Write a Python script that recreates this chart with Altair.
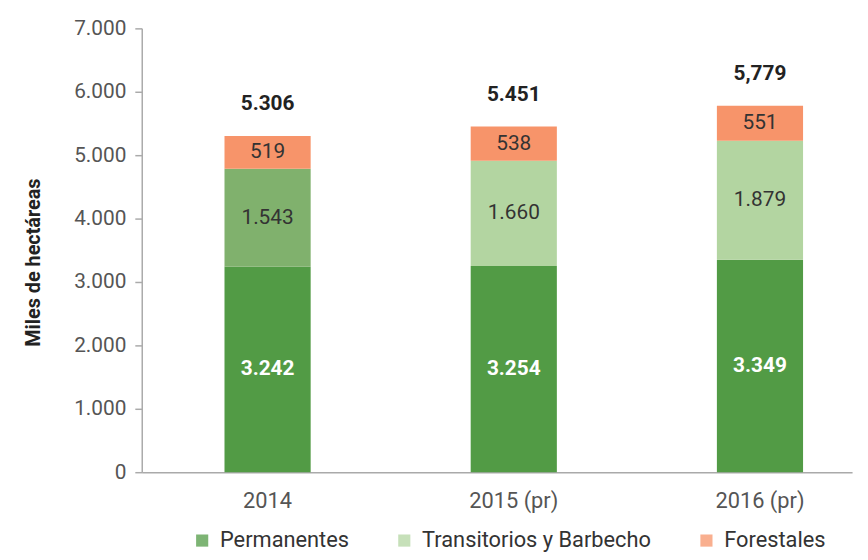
import altair as alt
import pandas as pd

years = ["2014", "2015 (pr)", "2016 (pr)"]
series = ["Permanentes", "Transitorios y Barbecho", "Forestales"]
permanentes = [3242, 3254, 3349]
transitorios = [1543, 1660, 1879]
forestales = [519, 538, 551]
totals = [5306, 5451, 5779]
total_labels = ["5.306", "5.451", "5,779"]

bar_colors = ["#529b45", "#b3d5a1", "#f7946a"]
alt_transit_2014 = "#80b16d"


def fmt(v):
    return f"{v:,}".replace(",", ".")


rows = []
for i, y in enumerate(years):
    lo = 0
    for s, vals in zip(series, [permanentes, transitorios, forestales]):
        v = vals[i]
        rows.append({"anio": y, "serie": s, "lo": lo, "hi": lo + v,
                     "mid": lo + v / 2, "label": fmt(v)})
        lo += v
df = pd.DataFrame(rows)
tot = pd.DataFrame({"anio": years, "total": totals, "label": total_labels})

FONT = "Roboto"

xenc = alt.X("anio:N", sort=years,
             scale=alt.Scale(paddingInner=0.65, paddingOuter=0.2676, align=0.628),
             axis=alt.Axis(title=None, labelAngle=0, ticks=False, domainColor="#aaaaaa",
                           domainWidth=1.5, labelFontSize=22, labelColor="#555555",
                           labelPadding=19, labelFont=FONT))
yscale = alt.Scale(domain=[0, 7000], nice=False)
yaxis = alt.Axis(values=list(range(0, 7001, 1000)),
                 labelExpr="replace(format(datum.value, ','), ',', '.')",
                 grid=False, tickSize=7, tickColor="#aaaaaa", tickWidth=1.5,
                 domainColor="#aaaaaa", domainWidth=1.5, labelPadding=9,
                 labelFontSize=21, labelColor="#555555", labelFont=FONT,
                 title="Miles de hectáreas", titleFontSize=20, titleFontWeight="bold",
                 titleColor="#222222", titleFont=FONT, titleX=-109, titleY=236,
                 titleAngle=270, titleAlign="center", titleBaseline="middle")

bars = alt.Chart(df).mark_bar().encode(
    x=xenc,
    y=alt.Y("lo:Q", scale=yscale, axis=yaxis, title="Miles de hectáreas"),
    y2="hi:Q",
    color=alt.condition(
        "datum.anio == '2014' && datum.serie == 'Transitorios y Barbecho'",
        alt.value(alt_transit_2014),
        alt.Color("serie:N", sort=series,
                  scale=alt.Scale(domain=series, range=bar_colors),
                  legend=alt.Legend(title=None, orient="none", legendX=50, legendY=506,
                                    direction="horizontal", symbolType="square",
                                    symbolSize=150, symbolOpacity=0.75, symbolStrokeWidth=0,
                                    labelFontSize=22, labelColor="#333333", labelFont=FONT,
                                    labelLimit=400, labelOffset=7, columnPadding=44)),
    ),
)

perm_text = alt.Chart(df).transform_filter("datum.serie == 'Permanentes'").mark_text(
    color="white", fontWeight="bold", fontSize=21, font=FONT, baseline="middle"
).encode(x=alt.X("anio:N", sort=years),
         y=alt.Y("mid:Q", scale=yscale, axis=yaxis, title="Miles de hectáreas"),
         text="label:N")

other_text = alt.Chart(df).transform_filter("datum.serie != 'Permanentes'").mark_text(
    color="#333333", fontSize=21, font=FONT, baseline="middle"
).encode(x=alt.X("anio:N", sort=years),
         y=alt.Y("mid:Q", scale=yscale, axis=yaxis, title="Miles de hectáreas"),
         text="label:N")

tot_text = alt.Chart(tot).mark_text(
    color="#222222", fontWeight="bold", fontSize=21, font=FONT, baseline="middle", dy=-32
).encode(x=alt.X("anio:N", sort=years),
         y=alt.Y("total:Q", scale=yscale, axis=yaxis, title="Miles de hectáreas"),
         text="label:N")

chart = alt.layer(bars, perm_text, other_text, tot_text).properties(
    width=717, height=448, autosize="none",
    padding={"left": 135, "top": 18, "right": 8, "bottom": 80},
).configure(font=FONT).configure_view(stroke=None)

chart.save("out.html", embed_options={"renderer": "svg", "actions": False})
